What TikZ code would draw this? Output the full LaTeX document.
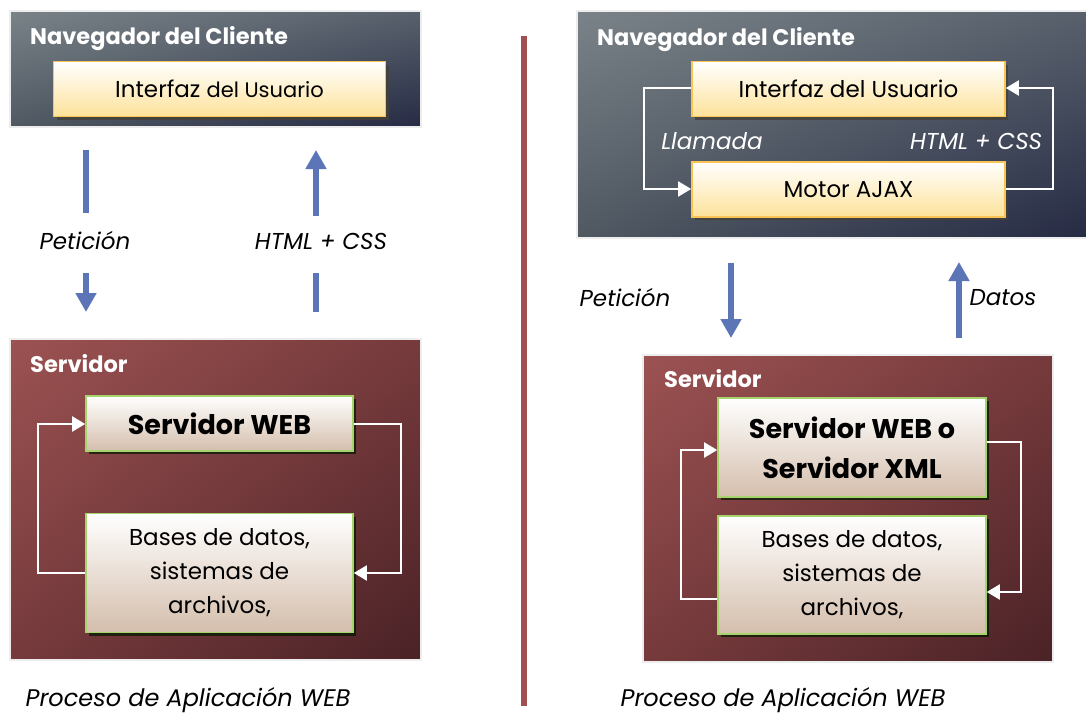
\documentclass[tikz,border=0pt]{standalone}
\usepackage{fontspec}
\setmainfont{Poppins}
\usetikzlibrary{arrows.meta,shadows,shadings}

\definecolor{cliUL}{RGB}{122,131,136}
\definecolor{cliUR}{RGB}{88,96,108}
\definecolor{cliLL}{RGB}{80,88,98}
\definecolor{cliLR}{RGB}{38,43,68}
\definecolor{srvUL}{RGB}{156,82,82}
\definecolor{srvUR}{RGB}{118,58,60}
\definecolor{srvLL}{RGB}{118,58,60}
\definecolor{srvLR}{RGB}{74,34,38}
\definecolor{ybot}{RGB}{253,226,154}
\definecolor{yedge}{RGB}{248,196,86}
\definecolor{gbot}{RGB}{212,190,172}
\definecolor{gedge}{RGB}{166,212,108}
\definecolor{flow}{RGB}{92,117,182}
\definecolor{divider}{RGB}{160,80,80}

\tikzset{
  x=1pt, y=-1pt,
  panel/.style={draw=black!7, line width=1.5pt, inner sep=0pt},
  clientpanel/.style={panel, upper left=cliUL, upper right=cliUR, lower left=cliLL, lower right=cliLR},
  serverpanel/.style={panel, upper left=srvUL, upper right=srvUR, lower left=srvLL, lower right=srvLR},
  paneltitle/.style={anchor=base west, text=white, font=\fontsize{22.5}{26}\selectfont\bfseries, inner sep=0pt},
  ybox/.style={draw=yedge, line width=1.6pt, top color=white, bottom color=ybot, inner sep=0pt,
    font=\fontsize{23}{26}\selectfont, text=black,
    drop shadow={shadow xshift=3pt, shadow yshift=-3pt, fill=black!75!yellow!60!black, opacity=.8}},
  gbox/.style={draw=gedge, line width=1.6pt, top color=white, bottom color=gbot, inner sep=0pt,
    align=center, text=black,
    drop shadow={shadow xshift=3pt, shadow yshift=-3pt, fill=black!70!green!30!black, opacity=.7}},
  bigtext/.style={font=\fontsize{27}{40}\selectfont\bfseries},
  listtext/.style={font=\fontsize{23}{34}\selectfont},
  flowline/.style={draw=flow, line width=6pt},
  flowarrow/.style={flowline, -{Triangle[width=20pt,length=19pt]}},
  loop/.style={draw=white, line width=2pt, -{Triangle[width=15pt,length=13pt]}},
  lbl/.style={font=\fontsize{23}{26}\selectfont\itshape, inner sep=0pt},
  caption/.style={font=\fontsize{24}{28}\selectfont\itshape, anchor=base, inner sep=0pt},
}

\begin{document}
\begin{tikzpicture}
\useasboundingbox[fill=white] (0,0) rectangle (1086,715);

% ---------------- left: classic web application ----------------
\node[clientpanel, minimum width=411pt, minimum height=116pt] (cliA) at (215.5,69) {};
\node[paneltitle] (cliAt) at (30,44) {Navegador del Cliente};
\node[ybox, minimum width=332pt, minimum height=55pt] (uiA) at (219.5,89)
  {Interfaz {\fontsize{21}{24}\selectfont del Usuario}};

\node[serverpanel, minimum width=411pt, minimum height=321pt] (srvA) at (215.5,499.5) {};
\node[paneltitle] (srvAt) at (30,372) {Servidor};
\node[gbox, bigtext, minimum width=267pt, minimum height=55pt] (webA) at (219.5,423.5) {Servidor WEB};
\node[gbox, listtext, minimum width=267pt, minimum height=119pt] (dbA) at (219.5,573)
  {Bases de datos,\\sistemas de\\archivos,};

% request / response between client and server
\coordinate (reqA1) at (86,150);
\coordinate (reqA2) at (86,213);
\coordinate (reqA3) at (86,273);
\coordinate (reqA4) at (86,312);
\node[lbl] (reqAl) at (85,241) {Petición};
\draw[flowline] (reqA1) -- (reqA2);
\draw[flowarrow] (reqA3) -- (reqA4);

\coordinate (resA1) at (316,312);
\coordinate (resA2) at (316,273);
\coordinate (resA3) at (316,216);
\coordinate (resA4) at (316,150);
\node[lbl] (resAl) at (321,241) {HTML + CSS};
\draw[flowline] (resA1) -- (resA2);
\draw[flowarrow] (resA3) -- (resA4);

% loops inside the server
\draw[loop] (dbA.west |- 0,573) -| (38,424) -- (webA.west |- 0,424);
\draw[loop] (webA.east |- 0,424) -| (401,573) -- (dbA.east |- 0,573);

\node[caption] (capA) at (188,706) {Proceso de Aplicación WEB};

% ---------------- divider ----------------
\coordinate (divT) at (524,36);
\coordinate (divB) at (524,706);
\draw[divider, line width=6pt] (divT) -- (divB);

% ---------------- right: AJAX application ----------------
\node[clientpanel, minimum width=510pt, minimum height=227pt] (cliB) at (832,124.5) {};
\node[paneltitle] (cliBt) at (597,45) {Navegador del Cliente};
\node[ybox, minimum width=313pt, minimum height=55pt] (uiB) at (848.5,89) {Interfaz del Usuario};
\node[ybox, minimum width=313pt, minimum height=55pt] (ajax) at (848.5,189.5) {Motor AJAX};

\draw[loop] (uiB.west |- 0,88) -| (644,189) -- (ajax.west |- 0,189);
\draw[loop] (ajax.east |- 0,189) -| (1053,88) -- (uiB.east |- 0,88);
\node[lbl, text=white] (callB) at (712,141) {Llamada};
\node[lbl, text=white] (htmlB) at (976,141) {HTML + CSS};

\node[serverpanel, minimum width=410pt, minimum height=307pt] (srvB) at (848,508.5) {};
\node[paneltitle] (srvBt) at (664,387) {Servidor};
\node[gbox, bigtext, minimum width=268pt, minimum height=99pt] (webB) at (852,447.5)
  {Servidor WEB o\\Servidor XML};
\node[gbox, listtext, minimum width=268pt, minimum height=118pt] (dbB) at (852,575)
  {Bases de datos,\\sistemas de\\archivos,};

\draw[loop] (dbB.west |- 0,599) -| (681,450) -- (webB.west |- 0,450);
\draw[loop] (webB.east |- 0,442) -| (1021,592) -- (dbB.east |- 0,592);

\coordinate (reqB1) at (731,263);
\coordinate (reqB2) at (731,338);
\node[lbl] (reqBl) at (625,298) {Petición};
\draw[flowarrow] (reqB1) -- (reqB2);

\coordinate (resB1) at (959,338);
\coordinate (resB2) at (959,262);
\node[lbl] (resBl) at (1003,298) {Datos};
\draw[flowarrow] (resB1) -- (resB2);

\node[caption] (capB) at (783,706) {Proceso de Aplicación WEB};
\end{tikzpicture}
\end{document}
